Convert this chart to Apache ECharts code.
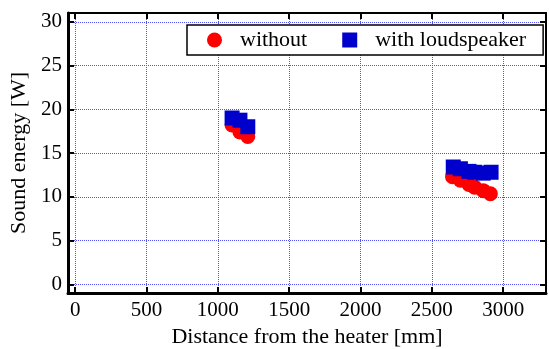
<!DOCTYPE html>
<html><head><meta charset="utf-8">
<script src="https://cdn.jsdelivr.net/npm/echarts@6/dist/echarts.min.js"></script>
<style>html,body{margin:0;padding:0;background:#fff}#c{width:549px;height:349px}</style>
</head><body><div id="c"></div>
<script>
const xWithout = [1100, 1155, 1210, 2645, 2700, 2760, 2800, 2860, 2910];
const yWithout = [18.2, 17.4, 16.9, 12.3, 11.9, 11.4, 11.1, 10.7, 10.35];
const xWith = [1100, 1155, 1210, 2650, 2700, 2760, 2800, 2860, 2915];
const yWith = [19.0, 18.75, 18.0, 13.4, 13.2, 12.9, 12.8, 12.7, 12.8];
const seriesNames = ['without', 'with loudspeaker'];
const xTitle = 'Distance from the heater [mm]';
const yTitle = 'Sound energy [W]';

const font = 'Liberation Serif, Times New Roman, serif';
const pairs = (xs, ys) => xs.map((x, i) => [x, ys[i]]);
const chart = echarts.init(document.getElementById('c'), null, {renderer: 'canvas'});
const gridLine = {show: true, lineStyle: {color: '#4f4fff', type: 'dotted', width: 1}};
const mainAxisLine = {show: true, onZero: false, lineStyle: {color: '#000', width: 3}};
const sideAxisLine = {show: true, onZero: false, lineStyle: {color: '#000', width: 2}};
const tick = {show: true, inside: true, length: 6, lineStyle: {color: '#000', width: 2}};
chart.setOption({
  animation: false,
  grid: {left: 68, top: 13, right: 3, bottom: 56, containLabel: false, outerBoundsMode: 'none'},
  legend: {
    left: 187, top: 25, orient: 'horizontal',
    data: [{name: seriesNames[0], icon: 'circle'}, {name: seriesNames[1], icon: 'rect'}],
    itemWidth: 15, itemHeight: 15, itemGap: 35,
    padding: [4, 17, 4, 20],
    borderColor: '#000', borderWidth: 1.5, backgroundColor: '#fff',
    textStyle: {fontFamily: font, fontSize: 22, color: '#000', padding: [0, 0, 0, 13]}
  },
  xAxis: [{
    type: 'value', min: -50, max: 3300, minInterval: 500, maxInterval: 500,
    position: 'bottom',
    name: xTitle, nameLocation: 'middle', nameGap: 30,
    nameTextStyle: {fontFamily: font, fontSize: 22, color: '#000'},
    axisLine: mainAxisLine, axisTick: tick, splitLine: gridLine,
    axisLabel: {fontFamily: font, fontSize: 21, color: '#000', margin: 7, showMinLabel: false, showMaxLabel: false,
      formatter: v => (v % 500 === 0 ? String(v) : '')}
  }, {
    type: 'value', min: -50, max: 3300, minInterval: 500, maxInterval: 500,
    position: 'top', axisLine: sideAxisLine, axisTick: tick, axisLabel: {show: false}, splitLine: {show: false}
  }],
  yAxis: [{
    type: 'value', min: -1, max: 31, minInterval: 5, maxInterval: 5,
    position: 'left',
    name: yTitle, nameLocation: 'middle', nameGap: 38, nameRotate: 90,
    nameTextStyle: {fontFamily: font, fontSize: 22, color: '#000'},
    axisLine: mainAxisLine, axisTick: tick, splitLine: gridLine,
    axisLabel: {fontFamily: font, fontSize: 21, color: '#000', margin: 6, showMinLabel: false, showMaxLabel: false,
      formatter: v => (v % 5 === 0 ? String(v) : '')}
  }, {
    type: 'value', min: -1, max: 31, minInterval: 5, maxInterval: 5,
    position: 'right', axisLine: sideAxisLine, axisTick: tick, axisLabel: {show: false}, splitLine: {show: false}
  }],
  series: [{
    name: seriesNames[0], type: 'scatter', symbol: 'circle', symbolSize: 15,
    itemStyle: {color: '#ff0000', opacity: 1},
    data: pairs(xWithout, yWithout)
  }, {
    name: seriesNames[1], type: 'scatter', symbol: 'rect', symbolSize: 15,
    itemStyle: {color: '#0000cc', opacity: 1},
    data: pairs(xWith, yWith)
  }]
});
</script></body></html>
